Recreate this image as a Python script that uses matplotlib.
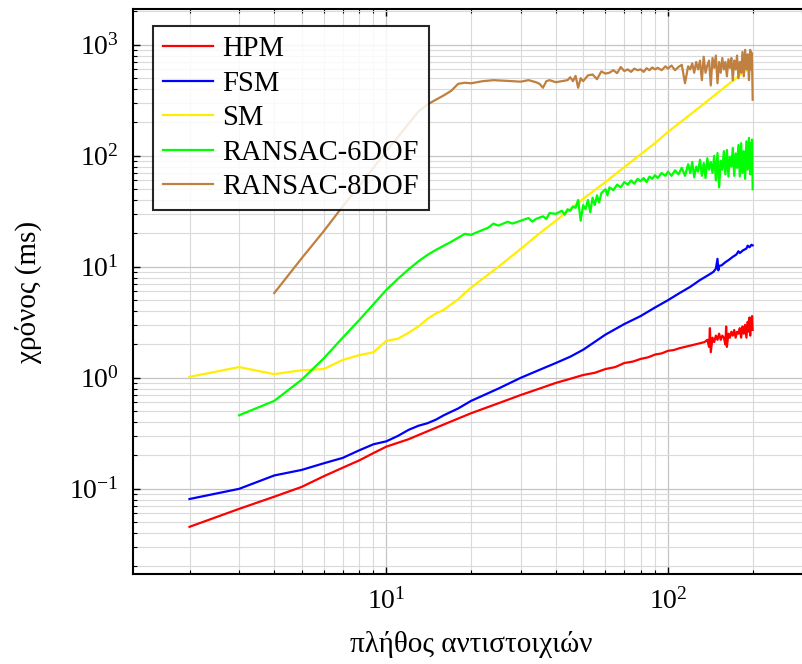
import matplotlib.pyplot as plt
import numpy as np
from matplotlib.ticker import LogLocator, NullFormatter

plt.rcParams['font.family'] = ['Liberation Serif', 'DejaVu Serif']
plt.rcParams['mathtext.fontset'] = 'cm'

# HPM
hpm_x = [2, 3, 4, 5, 6, 7, 8, 9, 10, 12, 14, 16, 18, 20, 25, 30, 35, 40, 45, 50,
         55, 60, 65, 70, 75, 80, 85, 90, 95, 100, 105, 110, 115, 120, 125, 130, 135,
         138, 140, 141, 142, 144, 146, 148,
         150, 152, 154, 156, 158, 160, 161, 162, 164, 166, 168, 170, 172, 174, 176,
         178, 180, 182, 184, 186, 188, 190, 192, 194, 195, 196, 197, 198, 199, 200]
hpm_y = [0.0455, 0.066, 0.085, 0.104, 0.13, 0.155, 0.18, 0.21, 0.24, 0.28, 0.33,
         0.38, 0.43, 0.48, 0.59, 0.70, 0.80, 0.90, 0.98, 1.06, 1.11, 1.2, 1.25, 1.36,
         1.4, 1.48, 1.53, 1.62, 1.66, 1.75, 1.78, 1.85, 1.9, 1.95, 2.0, 2.05, 2.1,
         2.2, 1.9, 2.8, 1.7, 2.3, 2.1, 2.4, 2.2, 2.5, 2.2,
         2.4, 2.3, 2.0, 2.9, 1.9, 2.5, 2.3, 2.6, 2.4, 2.7, 2.3, 2.6, 2.5, 2.8, 2.3,
         2.9, 2.5, 3.0, 2.3, 3.2, 2.6, 3.5, 2.4, 3.3, 2.7, 3.6, 2.7]

# FSM
fsm_x = [2, 3, 4, 5, 6, 7, 8, 9, 10, 11, 12, 13, 14, 15, 16, 18, 20, 25, 30, 35, 40,
         45, 50, 60, 70, 80, 90, 100, 110, 120, 130, 140, 145, 148, 150, 151, 152,
         155, 160, 165, 170, 175, 178, 180, 185, 190, 192, 195, 198, 200]
fsm_y = [0.081, 0.1, 0.132, 0.148, 0.17, 0.19, 0.222, 0.252, 0.268, 0.3, 0.34, 0.37,
         0.39, 0.42, 0.46, 0.53, 0.62, 0.8, 1.0, 1.18, 1.36, 1.55, 1.79, 2.45, 3.05,
         3.6, 4.3, 5.0, 5.8, 6.6, 7.6, 8.5, 9.0, 9.6, 11.8, 9.3, 10.2, 10.3, 11.0,
         11.6, 12.3, 12.9, 13.8, 13.3, 14.1, 14.6, 15.5, 15.0, 15.8, 15.6]

# SM
sm_x = [2, 3, 4, 5, 6, 7, 8, 9, 10, 11, 12, 13, 14, 15, 16, 17, 18, 19, 20, 25, 30,
        35, 40, 45, 50, 60, 70, 80, 90, 100, 120, 140, 160, 180, 200]
sm_y = [1.02, 1.25, 1.08, 1.17, 1.2, 1.45, 1.6, 1.7, 2.15, 2.25, 2.55, 2.9, 3.4, 3.8,
        4.1, 4.6, 5.1, 5.8, 6.5, 10, 14.5, 20, 26, 33, 41, 58, 79, 103, 130, 164,
        235, 320, 420, 530, 650]

# RANSAC-6DOF
r6_x = [3, 4, 5, 6, 7, 8, 9, 10, 11, 12, 13, 14, 15, 16, 17, 18, 19, 20, 21, 22, 23,
        24, 25, 26, 27, 28, 30, 32, 33, 34, 36, 37, 38, 40, 42, 43, 44, 45, 46, 47,
        48, 49, 50, 51, 52, 53, 54, 55, 56, 57, 58, 60, 61, 62, 64, 66, 68, 70, 72,
        74, 76, 78, 80, 82, 84, 86, 88, 90, 92, 95, 98, 100, 103, 106, 109, 112, 115,
        118, 120, 122, 124, 126, 128, 130, 132, 134, 136, 138, 140, 142, 144, 146,
        148, 150, 152, 154, 156, 158, 160, 162, 164, 166, 168, 170, 172, 174, 176,
        178, 180, 182, 184, 186, 188, 190, 192, 194, 196, 197, 198, 199, 200]
r6_y = [0.46, 0.62, 0.96, 1.5, 2.3, 3.3, 4.6, 6.2, 7.8, 9.5, 11.2, 12.8, 14.2, 15.5,
        16.8, 18.3, 19.8, 19.4, 20.5, 21.5, 22.5, 24.5, 23.5, 24.5, 25.5, 24.5, 26,
        27.5, 25.5, 27, 28.5, 27, 30.5, 30, 32, 29.5, 33, 32, 35, 34, 40, 26, 36, 33,
        40, 31, 42, 36, 44, 38, 46, 50, 44, 52, 49, 55, 52, 58, 55, 60, 56, 62, 59,
        63, 58, 65, 62, 67, 63, 70, 66, 72, 66, 74, 68, 78, 66, 84, 70, 88, 64, 80,
        72, 92, 66, 86, 63, 95, 75, 88, 70, 100, 60, 106, 52, 90, 75, 110, 68, 113,
        65, 98, 80, 118, 66, 105, 78, 125, 65, 130, 70, 110, 62, 135, 75, 145, 68,
        130, 85, 140, 50]

# RANSAC-8DOF
r8_x = [4, 5, 6, 7, 8, 9, 10, 11, 12, 13, 14, 15, 16, 17, 18, 19, 20, 22, 24, 26, 28,
        30, 32, 34, 35, 36, 37, 38, 40, 42, 44, 45, 46, 47, 48, 49, 50, 52, 54, 56,
        58, 60, 62, 64, 66, 68, 70, 72, 74, 76, 78, 80, 82, 84, 86, 88, 90, 92, 95,
        98, 100, 103, 106, 109, 112, 115, 118, 120, 122, 124, 126, 128, 130, 132,
        134, 136, 138, 140, 142, 144, 146, 148, 150, 152, 154, 156, 158, 160, 162,
        164, 166, 168, 170, 172, 174, 176, 178, 180, 182, 184, 186, 188, 190, 192,
        194, 196, 197, 198, 199, 200]
r8_y = [5.8, 11.9, 21, 35, 53, 78, 110, 148, 195, 250, 290, 320, 350, 385, 445, 455,
        450, 470, 480, 475, 470, 465, 480, 460, 445, 410, 470, 480, 460, 470, 480,
        510, 470, 525, 410, 500, 470, 530, 540, 490, 575, 550, 560, 590, 555, 630,
        580, 600, 570, 610, 590, 600, 570, 615, 590, 625, 600, 620, 590, 640, 610,
        650, 590, 630, 660, 450, 640, 600, 680, 560, 700, 600, 720, 480, 780, 560,
        650, 720, 430, 760, 620, 800, 450, 700, 560, 760, 600, 700, 520, 740, 620,
        760, 480, 720, 600, 800, 500, 700, 560, 860, 520, 900, 600, 820, 480, 900,
        600, 850, 700, 320]

series = [
    ('HPM', hpm_x, hpm_y, '#ff0000'),
    ('FSM', fsm_x, fsm_y, '#0000ff'),
    ('SM', sm_x, sm_y, '#ffee00'),
    ('RANSAC-6DOF', r6_x, r6_y, '#00ff00'),
    ('RANSAC-8DOF', r8_x, r8_y, '#bf8040'),
]

fig = plt.figure(figsize=(8.02, 6.64), dpi=100)
ax = fig.add_axes([133 / 802, 90 / 664, 676 / 802, 565 / 664])

for name, xs, ys, c in series:
    ax.plot(xs, ys, color=c, lw=1.6, label=name)

ax.set_xscale('log')
ax.set_yscale('log')
ax.set_xlim(1.26, 317)
ax.set_ylim(0.0171, 2100)

ax.xaxis.set_minor_locator(LogLocator(base=10, subs=np.arange(2, 10)))
ax.yaxis.set_minor_locator(LogLocator(base=10, subs=np.arange(2, 10)))
ax.xaxis.set_minor_formatter(NullFormatter())
ax.yaxis.set_minor_formatter(NullFormatter())

ax.grid(True, which='major', color='#c4c4c4', lw=0.9)
ax.grid(True, which='minor', color='#dadada', lw=0.8)
ax.set_axisbelow(True)

ax.tick_params(which='both', direction='in', top=True, right=True, labelsize=20)
ax.tick_params(which='major', length=5, width=1, pad=10)
ax.tick_params(which='minor', length=3, width=0.8)
for s in ax.spines.values():
    s.set_linewidth(1.5)

ax.set_xlabel('πλήθος αντιστοιχιών', fontsize=21, labelpad=12)
ax.set_ylabel('χρόνος (ms)', fontsize=21, labelpad=20)

leg = ax.legend(loc='upper left', bbox_to_anchor=(0.03, 0.97), fontsize=20.6,
                fancybox=False, edgecolor='black', framealpha=0.85,
                handlelength=1.75, handletextpad=0.3, labelspacing=0.3,
                borderpad=0.35, borderaxespad=0)
leg.get_frame().set_linewidth(1.5)

fig.savefig('out.png', dpi=100)
